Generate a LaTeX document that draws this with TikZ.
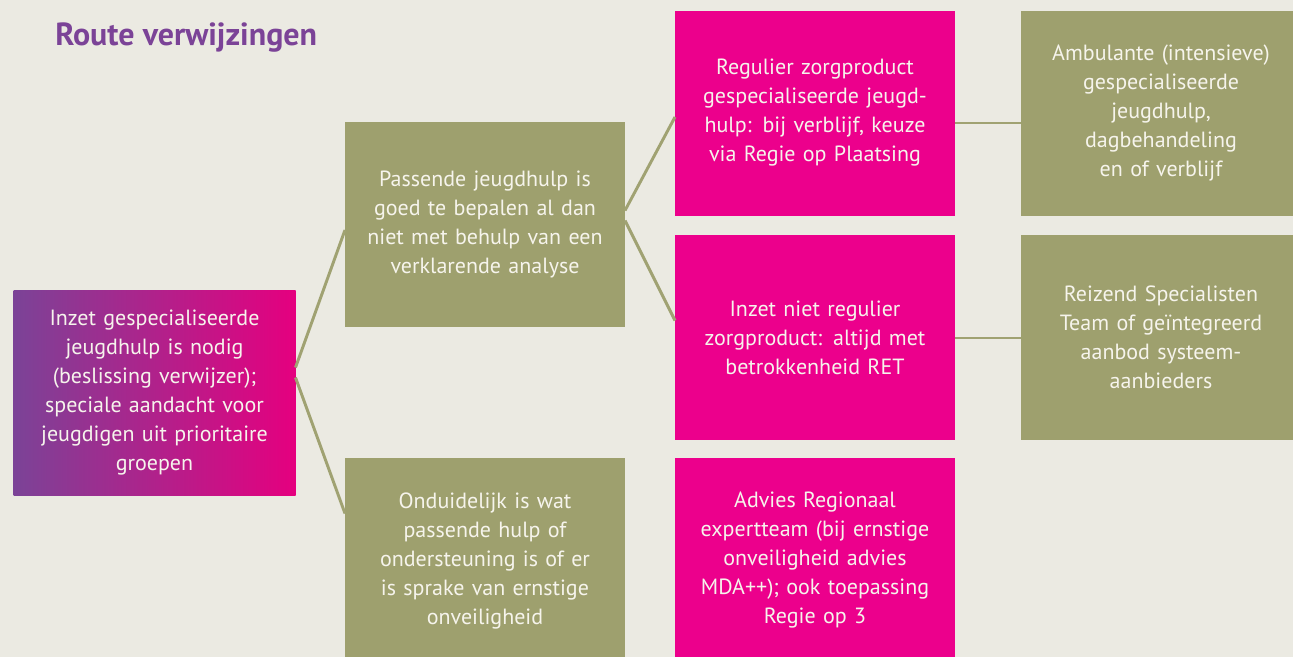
\documentclass[tikz,border=0pt]{standalone}
\usepackage{fontspec}
\setmainfont{PT Sans}
\usetikzlibrary{calc}
\definecolor{bg}{HTML}{EBEAE2}
\definecolor{olive}{HTML}{9EA06E}
\definecolor{pinkc}{HTML}{EC008C}
\definecolor{purp}{HTML}{7B4397}
\definecolor{magc}{HTML}{E5007F}
\definecolor{txt}{HTML}{F6F4EC}
\definecolor{linec}{HTML}{A0A272}
\tikzset{
  box/.style={rectangle, inner sep=0pt, outer sep=0pt, minimum width=210pt, minimum height=153.75pt,
    text width=200pt, align=center, text=txt, font=\fontsize{16.5}{21.75}\selectfont},
  gbox/.style={box, fill=olive},
  pbox/.style={box, fill=pinkc},
  conn/.style={draw=linec, line width=2.2pt},
}
\begin{document}
\begin{tikzpicture}[x=0.75pt,y=-0.75pt]
\fill[bg] (0,0) rectangle (1293,657);
\useasboundingbox (0,0) rectangle (1293,657);
\clip (0,0) rectangle (1293,657);
\node[anchor=base west, text=purp, font=\bfseries\fontsize{24}{28}\selectfont, inner sep=0pt] (title) at (55,45) {Route verwijzingen};
\node[box, left color=purp, right color=magc, minimum width=211.5pt] (L) at (154.5,392.5) {Inzet gespecialiseerde\\ jeugdhulp is nodig\\ (beslissing verwijzer);\\ speciale aandacht voor\\ jeugdigen uit prioritaire\\ groepen};
\node[gbox] (G1) at (485,224.5) {Passende jeugdhulp is\\ goed te bepalen al dan\\ niet met behulp van een\\ verklarende analyse};
\node[gbox] (G2) at (485,560.5) {Onduidelijk is wat\\ passende hulp of\\ ondersteuning is of er\\ is sprake van ernstige\\ onveiligheid};
\node[pbox] (P1) at (815,113) {Regulier zorgproduct\\ gespecialiseerde jeugd-\\ hulp: bij verblijf, keuze\\ via Regie op Plaatsing};
\node[pbox] (P2) at (815,337.5) {Inzet niet regulier\\ zorgproduct: altijd met\\ betrokkenheid RET};
\node[pbox] (P3) at (815,560.5) {Advies Regionaal\\ expertteam (bij ernstige\\ onveiligheid advies\\ MDA++); ook toepassing\\ Regie op 3};
\node[gbox] (G3) at (1161,113) {Ambulante (intensieve)\\ gespecialiseerde\\ jeugdhulp,\\ dagbehandeling\\ en of verblijf};
\node[gbox] (G4) at (1161,337.5) {Reizend Specialisten\\ Team of geïntegreerd\\ aanbod systeem-\\ aanbieders};
\draw[conn] ($(L.east)+(0,-25)$) -- ($(G1.west)+(0,5.5)$);
\draw[conn] ($(L.east)+(0,-15)$) -- ($(G2.west)+(0,-47)$);
\draw[conn] ($(G1.east)+(0,-14)$) -- ($(P1.west)+(0,4)$);
\draw[conn] ($(G1.east)+(0,-4)$) -- ($(P2.west)+(0,-17)$);
\draw[conn] ($(P1.east)+(0,10)$) -- ($(G3.west)+(0,10)$);
\draw[conn] ($(P2.east)+(0,0.5)$) -- ($(G4.west)+(0,0.5)$);
\end{tikzpicture}
\end{document}
